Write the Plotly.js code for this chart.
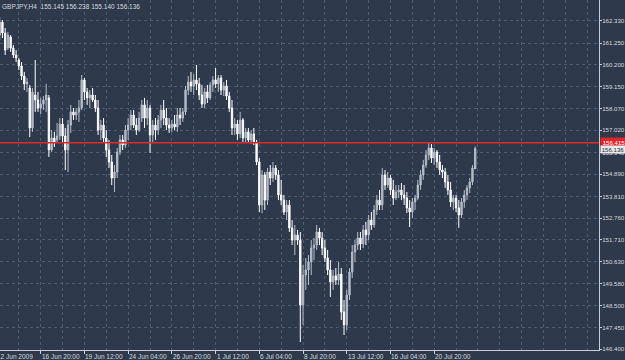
<!DOCTYPE html>
<html>
<head>
<meta charset="utf-8">
<script src="https://cdn.plot.ly/plotly-3.0.1.min.js"></script>
<style>html,body{margin:0;padding:0;background:#2e3a4c;overflow:hidden}</style>
</head>
<body>
<div id="chart" style="width:625px;height:360px"></div>
<script>
const symbolTitle = 'GBPJPY,H4';
const open = [
161.64,162.27,161.74,161.01,161.55,161.01,160.67,160.43,160.14,159.65,
159.27,159.07,157.13,158.73,158.49,158.10,158.29,158.49,158.59,156.06,
156.64,156.55,156.74,157.32,156.74,156.06,157.27,157.91,157.76,157.91,
158.10,159.46,158.88,158.59,158.73,158.49,158.10,157.03,157.27,156.64,
156.06,155.48,154.70,154.99,155.96,156.55,156.30,157.03,157.27,157.76,
157.27,157.03,157.61,158.25,157.61,158.10,156.79,157.27,157.03,157.52,
158.00,157.61,157.27,157.13,157.32,157.18,157.76,157.61,157.91,158.97,
159.36,159.17,159.46,159.27,158.73,158.29,158.88,158.59,159.22,159.46,
159.27,159.56,158.97,159.17,158.68,158.10,157.13,157.32,156.84,157.52,
156.64,156.94,156.55,156.84,156.45,155.48,153.39,154.85,153.63,154.99,
154.70,155.19,154.85,153.88,153.63,153.05,153.39,152.28,151.69,151.94,
151.69,148.54,149.99,150.24,150.63,151.30,151.45,152.08,151.79,151.30,
150.82,150.24,149.65,149.95,149.75,150.04,148.20,147.57,149.02,150.14,
151.11,151.45,151.79,151.50,152.18,151.94,152.66,152.42,153.15,153.63,
153.39,154.85,154.36,154.70,154.12,153.73,154.02,154.12,153.88,153.73,
153.25,153.05,153.54,153.73,154.36,154.85,155.33,155.82,156.16,155.67,
155.96,155.48,155.09,154.99,154.51,154.12,153.54,153.73,153.25,152.91,
153.54,153.88,154.22,154.51,155.145
];
const high = [
162.52,162.37,161.98,161.79,161.64,161.16,160.91,160.53,160.33,159.85,
159.56,159.22,159.07,160.43,158.88,158.59,158.68,159.27,158.73,157.03,
156.94,157.37,157.61,157.61,157.13,157.52,158.25,158.10,158.10,158.49,
159.70,159.56,159.07,158.97,159.07,158.73,158.49,157.52,157.61,157.03,
156.55,155.82,155.33,156.16,156.79,156.79,157.27,157.61,158.00,158.00,
157.61,157.91,158.49,158.59,158.49,158.25,157.52,157.61,157.76,158.25,
158.49,158.10,157.61,157.52,157.76,158.10,158.10,158.10,159.17,159.65,
159.85,159.75,160.19,159.56,159.22,159.07,159.22,159.36,159.65,160.04,
159.70,159.70,159.36,159.46,158.88,158.49,157.61,157.52,157.91,157.61,
157.13,157.13,157.03,157.13,156.55,155.67,155.09,154.99,155.19,155.33,
155.48,155.33,155.09,154.61,153.88,153.63,153.63,152.66,152.42,152.18,
152.08,150.48,150.82,150.96,151.69,151.79,152.42,152.28,152.08,151.69,
151.21,150.72,150.24,150.33,150.63,150.33,148.78,149.27,150.33,151.45,
151.69,152.08,152.08,152.42,152.57,152.91,153.05,153.39,153.88,154.12,
155.19,155.09,154.99,154.85,154.61,154.36,154.36,154.46,154.36,154.02,
153.63,153.73,153.88,154.61,155.09,155.58,156.06,156.40,156.35,156.16,
156.06,155.82,155.33,155.19,154.85,154.51,153.88,153.88,153.63,153.73,
154.12,154.36,154.70,155.33,156.238
];
const low = [
161.40,161.50,160.67,160.91,160.82,160.53,160.33,159.94,159.46,158.97,
158.88,156.69,156.94,157.91,157.91,157.81,158.00,157.91,155.72,155.96,
156.21,156.45,156.55,156.45,155.09,154.99,156.89,157.52,157.52,157.42,
158.00,158.49,158.25,158.10,158.39,157.91,156.79,156.55,156.40,155.72,
155.19,154.36,154.02,154.70,155.82,156.06,156.16,156.55,157.03,157.13,
156.79,156.94,157.42,157.13,157.27,155.92,156.45,156.55,156.79,157.13,
157.27,157.03,156.89,156.94,157.03,156.94,157.27,157.42,157.76,158.73,
158.88,158.73,158.97,158.49,158.10,158.10,158.34,158.49,158.88,159.07,
158.88,158.73,158.68,158.49,157.91,156.79,156.79,156.55,156.64,156.45,
156.45,156.40,156.35,156.30,155.33,153.05,153.00,153.15,153.39,154.36,
154.51,154.61,153.63,153.39,152.91,152.66,152.08,151.45,150.96,151.45,
146.74,147.57,149.27,149.51,149.99,150.72,151.21,151.45,150.96,150.63,
149.99,148.93,149.27,149.51,149.51,147.81,147.08,147.32,148.78,149.85,
150.63,151.21,151.21,151.30,151.45,151.69,152.18,152.28,152.91,153.15,
153.15,154.12,154.22,153.88,153.39,153.63,153.73,153.63,153.39,153.00,
152.32,152.76,153.15,153.63,154.12,154.61,155.19,155.58,155.43,155.33,
155.19,154.85,154.70,154.22,153.88,153.29,153.15,153.05,152.28,152.76,
153.25,153.63,153.97,154.36,155.140
];
const close = [
162.27,161.74,160.91,161.64,161.01,160.67,160.53,160.14,159.65,159.27,
159.36,157.13,158.88,158.49,158.10,158.29,158.49,158.73,156.06,156.64,
156.45,156.74,157.32,156.74,156.06,157.27,157.91,157.76,157.91,158.10,
159.46,158.88,158.59,158.73,158.49,158.10,157.03,157.27,156.64,156.06,
155.48,154.70,154.99,155.96,156.55,156.30,157.03,157.27,157.76,157.27,
157.03,157.61,158.25,157.61,158.10,156.79,157.27,157.03,157.52,158.00,
157.61,157.27,157.13,157.32,157.18,157.76,157.61,157.91,158.97,159.36,
159.17,159.46,159.27,158.73,158.29,158.88,158.59,159.22,159.46,159.27,
159.56,158.97,159.17,158.68,158.10,157.13,157.32,156.84,157.52,156.64,
156.94,156.55,156.84,156.45,155.48,153.39,154.85,153.63,154.99,154.70,
155.19,154.85,153.88,153.63,153.05,153.39,152.28,151.69,151.94,151.69,
148.54,149.99,150.24,150.63,151.30,151.45,152.08,151.79,151.30,150.82,
150.24,149.65,149.95,149.75,150.04,148.20,147.57,149.02,150.14,151.11,
151.45,151.79,151.50,152.18,151.94,152.66,152.42,153.15,153.63,153.39,
154.85,154.36,154.70,154.12,153.73,154.02,154.12,153.88,153.73,153.25,
153.05,153.54,153.73,154.36,154.85,155.33,155.82,156.16,155.67,155.96,
155.48,155.09,154.99,154.51,154.12,153.54,153.73,153.25,152.91,153.54,
153.88,154.22,154.51,155.19,156.136
];
// time labels and the bar they belong to (bar index counted from the first visible bar)
const timeLabelBars = [15, 31, 47, 63, 79, 95, 111, 127, 143, 159];
const timeLabels = ['16 Jun 20:00','19 Jun 12:00','24 Jun 04:00','26 Jun 20:00','1 Jul 12:00',
                    '6 Jul 04:00','8 Jul 20:00','13 Jul 12:00','16 Jul 04:00','20 Jul 20:00'];
const firstTimeLabel = '12 Jun 2009';
const priceTicks = [162.33,161.25,160.20,159.15,158.07,157.02,155.94,154.89,153.81,152.76,
                    151.71,150.63,149.58,148.50,147.45,146.40];
const priceTickLabels = ['162.330','161.250','160.200','159.150','158.070','157.020','155.940','154.890',
                         '153.810','152.760','151.710','150.630','149.580','148.500','147.450','146.400'];
const alertLevel = 156.415;

const BG = '#2e3a4c';
const GRID = '#4b5b70';
const AXIS = '#c9ced6';
const TXT = '#d4d8de';
const FONT = 'Liberation Sans, Arial, sans-serif';
const FS = 6.5;
const FSY = 6.1;

const barIndex = close.map((_, i) => i);
const last = close.length - 1;

const trace = {
  type: 'candlestick',
  x: barIndex, open: open, high: high, low: low, close: close,
  increasing: {line: {color: '#b4bcc8', width: 1}, fillcolor: '#b4bcc8'},
  decreasing: {line: {color: '#ffffff', width: 1}, fillcolor: '#ffffff'},
  whiskerwidth: 0,
  hoverinfo: 'skip'
};

const annotations = [
  {xref: 'paper', yref: 'paper', x: 0, y: 1, xanchor: 'left', yanchor: 'top', xshift: 0, yshift: -1,
   showarrow: false, align: 'left',
   text: symbolTitle + '  ' + open[last].toFixed(3) + ' ' + high[last].toFixed(3) + ' ' + low[last].toFixed(3) + ' ' + close[last].toFixed(3),
   font: {family: FONT, size: FS, color: TXT}},
  {xref: 'paper', yref: 'paper', x: 0, y: 0, xanchor: 'left', yanchor: 'top', xshift: -5, yshift: -1,
   showarrow: false, text: firstTimeLabel, font: {family: FONT, size: FS, color: TXT}},
  {xref: 'paper', yref: 'y', x: 1, y: alertLevel, xanchor: 'left', yanchor: 'middle', xshift: 1,
   showarrow: false, text: alertLevel.toFixed(3), bgcolor: '#e0262b', borderpad: 1, width: 24,
   font: {family: FONT, size: FSY, color: '#ffffff'}},
  {xref: 'paper', yref: 'y', x: 1, y: close[last], xanchor: 'left', yanchor: 'middle', xshift: 1, yshift: -1,
   showarrow: false, text: close[last].toFixed(3), bgcolor: '#e6e8ea', borderpad: 0, width: 24,
   font: {family: FONT, size: FSY, color: '#2a2f38'}}
];
timeLabelBars.forEach((b, k) => annotations.push({
  xref: 'x', yref: 'paper', x: b, y: 0, xanchor: 'left', yanchor: 'top', xshift: -1, yshift: -1,
  showarrow: false, text: timeLabels[k], font: {family: FONT, size: FS, color: TXT}
}));

const layout = {
  width: 625, height: 360,
  margin: {l: 0, r: 26, t: 0, b: 10, pad: 0},
  paper_bgcolor: BG, plot_bgcolor: BG,
  showlegend: false,
  font: {family: FONT, size: FS, color: TXT},
  xaxis: {
    type: 'linear', range: [0.11, 219.3], fixedrange: true,
    rangeslider: {visible: false},
    tickmode: 'array', tickvals: timeLabelBars, showticklabels: false,
    ticks: 'outside', ticklen: 3, tickcolor: AXIS, tickwidth: 1,
    showline: true, linecolor: AXIS, linewidth: 1,
    showgrid: true, gridcolor: GRID, griddash: '3px,3px', gridwidth: 1,
    minor: {tickmode: 'linear', tick0: 7, dtick: 8, showgrid: true, gridcolor: GRID, griddash: '3px,3px', gridwidth: 1, ticks: ''},
    zeroline: false
  },
  yaxis: {
    side: 'right', range: [146.353, 163.342], fixedrange: true,
    tickmode: 'array', tickvals: priceTicks, ticktext: priceTickLabels,
    ticks: 'outside', ticklen: 2, tickcolor: AXIS, tickwidth: 1,
    ticklabelstandoff: -1,
    tickfont: {family: FONT, size: FSY, color: TXT},
    showline: true, linecolor: AXIS, linewidth: 1,
    showgrid: true, gridcolor: GRID, griddash: '3px,3px', gridwidth: 1,
    zeroline: false
  },
  shapes: [
    {type: 'line', xref: 'paper', x0: 0, x1: 1, yref: 'y', y0: alertLevel, y1: alertLevel,
     line: {color: '#dc2a2e', width: 1.5}}
  ],
  annotations: annotations
};

Plotly.newPlot('chart', [trace], layout, {staticPlot: true, displayModeBar: false});
</script>
</body>
</html>
